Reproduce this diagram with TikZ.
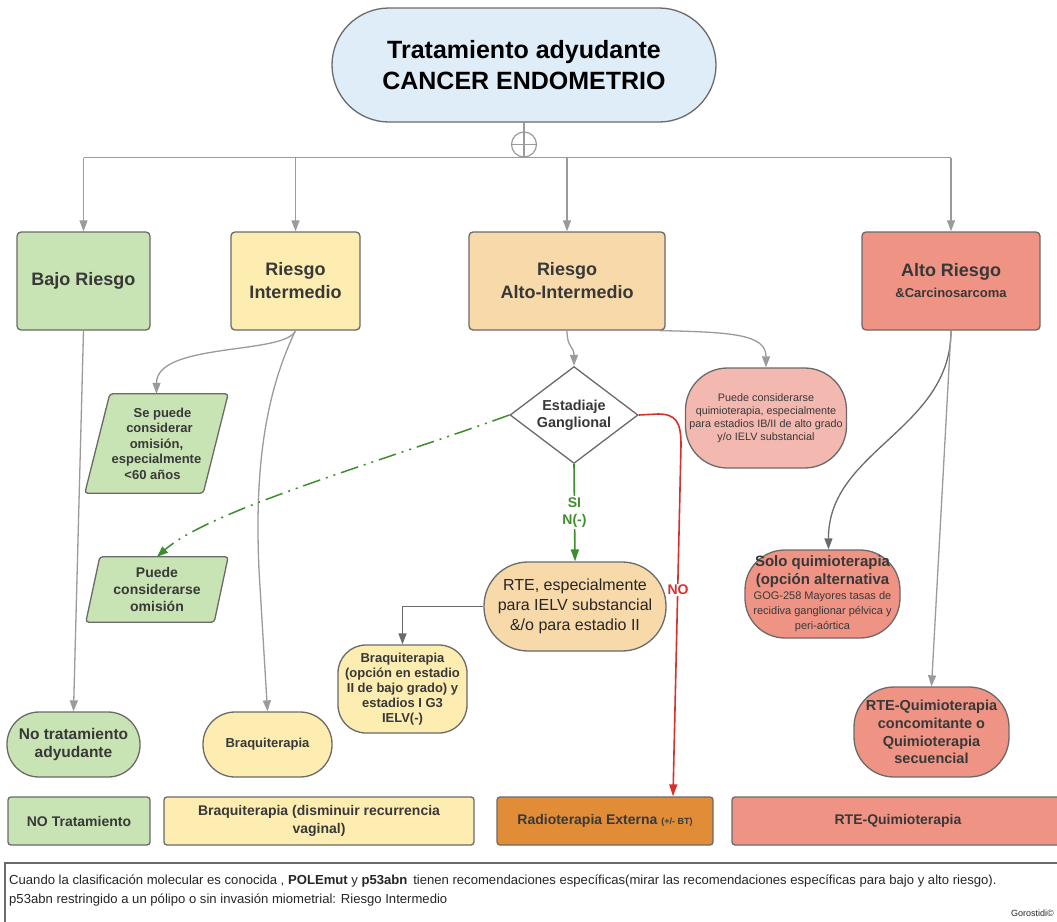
\documentclass[tikz,border=0pt]{standalone}
\usepackage{fontspec}
\setmainfont{Liberation Sans}
\usetikzlibrary{shapes.geometric,shapes.misc,arrows.meta,calc,backgrounds}
\definecolor{cgreen}{HTML}{C9E4B4}
\definecolor{cyellow}{HTML}{FDEDB1}
\definecolor{corange}{HTML}{F8D9AA}
\definecolor{csalmon}{HTML}{EF9484}
\definecolor{cpink}{HTML}{F3B8B0}
\definecolor{cdeep}{HTML}{E18D38}
\definecolor{cblue}{HTML}{DFEDF8}
\definecolor{cline}{HTML}{9B9B9B}
\definecolor{cborder}{HTML}{6A6A6A}
\definecolor{ctext}{HTML}{383838}
\definecolor{cgreenl}{HTML}{3E8E2E}
\definecolor{cred}{HTML}{D9302A}
\newcommand\fsz[2]{\fontsize{#1pt}{#2pt}\selectfont}
\newcommand\smallln{\mdseries\fsz{11}{13}}
\tikzset{
  box/.style={draw=cborder, line width=1.3pt, rounded corners=4pt, align=center, text=ctext, inner sep=0pt},
  bare/.style={align=center, text=ctext, inner sep=0pt},
  para/.style={draw=cborder, line width=1.3pt, rounded corners=3pt, fill=cgreen},
  arr/.style={draw=cline, line width=1.3pt, -{Triangle[length=11pt,width=8pt]}},
  darr/.style={draw=cborder, line width=1.3pt, -{Triangle[length=11pt,width=8pt]}},
  garr/.style={draw=cgreenl, line width=1.6pt, -{Triangle[length=12pt,width=8pt]}},
  rarr/.style={draw=cred, line width=1.6pt, -{Triangle[length=12pt,width=8pt]}},
  dashdotarr/.style={draw=cgreenl, line width=1.5pt, dash pattern=on 18pt off 6pt on 2pt off 6pt on 2pt off 6pt, -{Triangle[length=11pt,width=8pt]}},
  lbl/.style={fill=white, inner sep=1.5pt, align=center, font=\bfseries\fsz{14}{17}}
}
\begin{document}
\begin{tikzpicture}[x=1pt,y=-1pt]
\useasboundingbox (0,0) rectangle (1057,921);
\begin{scope}[on background layer]
\fill[white] (0,0) rectangle (1057,921);
\end{scope}

% title
\node[rounded rectangle, draw=cborder, line width=1.3pt, fill=cblue, minimum width=384pt, minimum height=114pt, align=center, inner sep=0pt, font=\bfseries\fsz{25}{31}] (title) at (524,65) {Tratamiento adyudante\\CANCER ENDOMETRIO};
\node[circle, draw=cline, line width=1.2pt, minimum size=25pt, inner sep=0pt] (plus) at (524,144.5) {};
\draw[cline, line width=1.2pt] (plus.north) -- (plus.south) (plus.west) -- (plus.east);
\draw[cline, line width=1.3pt] (title.south) -- (plus.north);

% level 1 boxes
\node[box, fill=cgreen, minimum width=133pt, minimum height=98pt, font=\bfseries\fsz{18}{22}] (bajo) at (83.5,281) {Bajo Riesgo};
\node[box, fill=cyellow, minimum width=129pt, minimum height=98pt, font=\bfseries\fsz{18}{23}] (inter) at (295.5,281) {Riesgo\\Intermedio};
\node[box, fill=corange, minimum width=196pt, minimum height=98pt, font=\bfseries\fsz{18}{23}] (altoint) at (567,281) {Riesgo\\Alto-Intermedio};
\node[box, fill=csalmon, minimum width=178pt, minimum height=98pt, font=\bfseries\fsz{18}{22}] (alto) at (951,281) {Alto Riesgo\\[-1pt]\fsz{13}{16}\&Carcinosarcoma};

\draw[cline, line width=1.3pt] (bajo.north |- plus.south) -- (alto.north |- plus.south);
\draw[arr] (bajo.north |- plus.south) -- (bajo.north);
\draw[arr] (inter.north |- plus.south) -- (inter.north);
\draw[arr] (altoint.north |- plus.south) -- (altoint.north);
\draw[arr] (alto.north |- plus.south) -- (alto.north);

% parallelograms
\node[bare, minimum width=143pt, minimum height=99pt, font=\bfseries\fsz{13}{15.5}] (om1) at (156.5,443.5) {\hspace*{12pt}Se puede\\\hspace*{6pt}considerar\\omisión,\\especialmente\\\hspace*{-8pt}<60 años};
\node[bare, minimum width=142pt, minimum height=65pt, font=\bfseries\fsz{14}{17}] (om2) at (157,589.5) {Puede\\considerarse\\omisión};
\begin{scope}[on background layer]
\draw[para] ($(om1.north west)+(25,0)$) -- (om1.north east) -- ($(om1.south east)+(-25,0)$) -- (om1.south west) -- cycle;
\draw[para] ($(om2.north west)+(14,0)$) -- (om2.north east) -- ($(om2.south east)+(-14,0)$) -- (om2.south west) -- cycle;
\end{scope}

% diamond
\node[diamond, draw=cborder, line width=1.3pt, fill=white, aspect=1.32, minimum width=128pt, minimum height=97pt, inner sep=0pt, align=center, text=ctext, font=\bfseries\fsz{14.4}{17}] (dia) at (574,415) {Estadiaje\\Ganglional};

% other nodes
\node[box, fill=cpink, rounded corners=42pt, minimum width=161pt, minimum height=100pt, font=\fsz{10.8}{13}] (pink) at (766,418) {Puede considerarse\\quimioterapia, especialmente\\para estadios IB/II de alto grado\\y/o IELV substancial};
\node[box, fill=corange, rounded corners=44pt, minimum width=182pt, minimum height=89pt, font=\fsz{16}{20}, text=black!85] (rte) at (575,606.5) {RTE, especialmente\\para IELV substancial\\\&/o para estadio II};
\node[box, fill=cyellow, rounded corners=28pt, minimum width=129pt, minimum height=88pt, font=\bfseries\fsz{13}{15}] (braq2) at (402.5,689) {Braquiterapia\\(opción en estadio\\II de bajo grado) y\\estadios I G3\\IELV(-)};
\node[box, fill=cgreen, rounded corners=32pt, minimum width=133pt, minimum height=65pt, font=\bfseries\fsz{15.5}{18}] (notrat) at (73.5,744.5) {No tratamiento\\adyudante};
\node[box, fill=cyellow, rounded corners=32pt, minimum width=129pt, minimum height=65pt, font=\bfseries\fsz{13}{15}] (braqs) at (267.5,744.5) {Braquiterapia};
\node[box, fill=csalmon, rounded corners=40pt, minimum width=155pt, minimum height=88pt, font=\bfseries\fsz{15}{18}] (solo) at (822.5,594) {Solo quimioterapia\\(opción alternativa\\[-3pt]\smallln GOG-258 Mayores tasas de\\[-3pt]\smallln recidiva ganglionar pélvica y\\[-3pt]\smallln peri-aórtica};
\node[box, fill=csalmon, rounded corners=40pt, minimum width=155pt, minimum height=90pt, font=\bfseries\fsz{14.5}{17.7}] (rteq) at (931.5,732) {RTE-Quimioterapia\\concomitante o\\Quimioterapia\\secuencial};

% bottom row
\node[box, fill=cgreen, rounded corners=3pt, minimum width=142pt, minimum height=48pt, font=\bfseries\fsz{14}{17}] (b1) at (79,821) {NO Tratamiento};
\node[box, fill=cyellow, rounded corners=3pt, minimum width=310pt, minimum height=48pt, font=\bfseries\fsz{14}{18}] (b2) at (319,821) {Braquiterapia (disminuir recurrencia\\vaginal)};
\node[box, fill=cdeep, rounded corners=3pt, minimum width=216pt, minimum height=48pt, font=\bfseries\fsz{14}{17}] (radext) at (605,821) {Radioterapia Externa \fsz{9}{11}(+/- BT)};
\node[box, fill=csalmon, rounded corners=3pt, minimum width=332pt, minimum height=48pt, font=\bfseries\fsz{14}{17}] (b4) at (898,821) {RTE-Quimioterapia};

% footer
\node[draw=cborder, line width=1.5pt, minimum width=1060pt, minimum height=64pt, inner sep=0pt, anchor=north west] (foot) at (4,862) {};
\node[anchor=base west, inner sep=0pt, text=black!85, font=\fsz{13.1}{15}] (f1) at (9,884.5) {Cuando la clasificación molecular es conocida , \textbf{POLEmut} y \textbf{p53abn}\, tienen recomendaciones específicas(mirar las recomendaciones específicas para bajo y alto riesgo).};
\node[anchor=base west, inner sep=0pt, text=black!85, font=\fsz{13.1}{15}] (f2) at (9,903.5) {p53abn restringido a un pólipo o sin invasión miometrial: Riesgo Intermedio};
\node[anchor=base east, inner sep=0pt, text=black!85, font=\fsz{9}{10}] (gor) at (1054,916) {Gorostidi©};

% connectors
\draw[arr] (bajo.south) -- (notrat.north);
\draw[arr] (inter.south) .. controls (285,355) and (156.5,342) .. (om1.north);
\draw[arr] (inter.south) .. controls (262,400) and (255,480) .. (259,570) -- (braqs.north);
\draw[arr] (altoint.south) .. controls (567,348) and (574,346) .. (dia.north);
\draw[arr] ($(altoint.south east)+(-6,0)$) .. controls (735,332) and (766,335) .. (pink.north);
\draw[darr] (alto.south) .. controls (951,430) and (828,450) .. ($(solo.north)+(6,0)$);
\draw[arr] (alto.south) -- (rteq.north);
\draw[darr] (rte.west) -| (braq2.north);
\draw[dashdotarr] (dia.west) .. controls (380,462) and (210,510) .. (om2.north);
\draw[garr] (dia.south) -- node[lbl, text=cgreenl] (si) {SI\\N(-)} (rte.north);
\draw[rarr] (dia.east) -- (658,414) .. controls (676,414) and (681,422) .. (681,445) -- ($(radext.north)+(68,0)$);
\node[lbl, text=cred] (no) at (678,590) {NO};
\end{tikzpicture}
\end{document}
